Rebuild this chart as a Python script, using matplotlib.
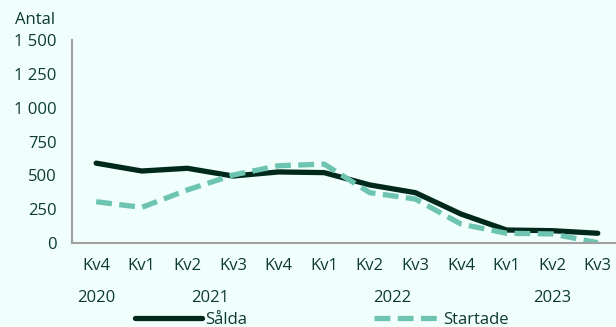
import matplotlib
matplotlib.use("Agg")
import matplotlib.pyplot as plt
from matplotlib.ticker import FuncFormatter
import matplotlib.transforms as mtransforms

quarters = ["Kv4", "Kv1", "Kv2", "Kv3", "Kv4", "Kv1", "Kv2", "Kv3", "Kv4", "Kv1", "Kv2", "Kv3"]
years = ["2020", "2021", "2022", "2023"]
year_spans = [(0, 0), (1, 4), (5, 8), (9, 11)]
salda = [590, 532, 552, 495, 525, 520, 429, 372, 214, 96, 91, 72]
startade = [305, 263, 392, 502, 571, 583, 372, 325, 140, 72, 67, 2]

bg = "#F1FFFC"
txt = "#0D3B2D"
dark = "#00291B"
teal = "#6CC4B1"
grey = "#A0A0A0"

plt.rcParams['font.family'] = ['Open Sans', 'DejaVu Sans']
fs = 12

fig = plt.figure(figsize=(6.16, 3.27), dpi=100, facecolor=bg)
ax = fig.add_axes([72/616, 1-243/327, 1-72/616, (243-40)/327])
ax.set_facecolor(bg)

x = list(range(len(quarters)))
ax.plot(x, salda, color=dark, lw=3.8, solid_capstyle='round', label="Sålda")
ax.plot(x, startade, color=teal, lw=3.8, dashes=(3.0, 1.4), label="Startade")

ax.set_xlim(-0.53, 11.4)
ax.set_ylim(0, 1500)
ax.set_yticks([0, 250, 500, 750, 1000, 1250, 1500])
ax.yaxis.set_major_formatter(FuncFormatter(lambda v, p: f"{int(v):,}".replace(",", " ")))
ax.set_xticks(x)
ax.set_xticklabels(quarters)
ax.tick_params(axis='both', length=0, labelsize=fs, colors=txt)
ax.tick_params(axis='x', pad=11)
ax.tick_params(axis='y', pad=11)

for s in ["top", "right"]:
    ax.spines[s].set_visible(False)
for s in ["left", "bottom"]:
    ax.spines[s].set_color(grey)
    ax.spines[s].set_linewidth(1.5)

trans = mtransforms.blended_transform_factory(ax.transData, fig.transFigure)
for yr, (a, b) in zip(years, year_spans):
    ax.text((a + b) / 2, 1 - 298/327, yr, transform=trans, ha='center', va='center',
            fontsize=fs, color=txt)

fig.text(55/616, 1 - 20/327, "Antal", ha='right', va='center', fontsize=fs, color=txt)

leg = fig.legend(loc='center', bbox_to_anchor=(322/616, 1 - 320/327), ncol=2, frameon=False,
                 fontsize=fs, handlelength=4.0, handletextpad=0.2, columnspacing=7.6,
                 labelcolor=txt)

fig.savefig("out.png", dpi=100, facecolor=bg)
